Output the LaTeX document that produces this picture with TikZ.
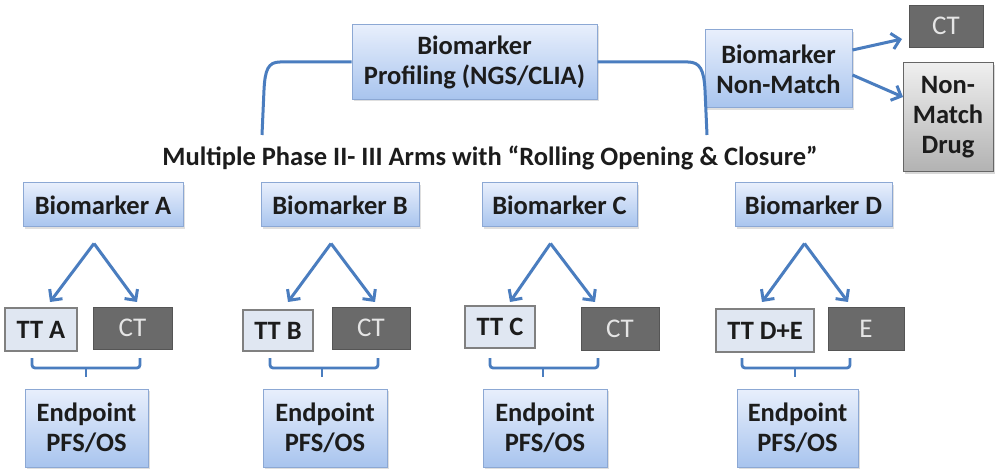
\documentclass[tikz,border=0pt]{standalone}
\usepackage{fontspec}
\setmainfont{Carlito}
\usetikzlibrary{arrows.meta,shadows,calc}
\definecolor{bluetop}{HTML}{E8EFFC}
\definecolor{bluebot}{HTML}{A8C4EE}
\definecolor{blueedge}{HTML}{8CA8D4}
\definecolor{arrowblue}{HTML}{4A7DBF}
\definecolor{darkgrey}{HTML}{6A6A6A}
\definecolor{ttfill}{HTML}{E0E7F2}
\definecolor{ttedge}{HTML}{808080}
\definecolor{greytop}{HTML}{EFEFEF}
\definecolor{greybot}{HTML}{B2B2B2}
\definecolor{txt}{HTML}{1C1C1C}
\begin{document}
\begin{tikzpicture}[x=1pt,y=-1pt,
  bluebox/.style={draw=blueedge, line width=1pt, top color=bluetop, bottom color=bluebot,
    inner sep=0pt, align=center, text=txt,
    font=\fontsize{26.5}{30}\selectfont\bfseries,
    drop shadow={shadow xshift=1.5pt, shadow yshift=-2pt, opacity=0.25}},
  ctbox/.style={draw=darkgrey!80!black, line width=0.8pt, fill=darkgrey, inner sep=0pt,
    text=white!90!black, font=\fontsize{27}{30}\selectfont},
  ttbox/.style={draw=ttedge, line width=1.2pt, fill=ttfill, inner sep=0pt, text=txt,
    font=\fontsize{26.5}{30}\selectfont\bfseries},
  greybox/.style={draw=ttedge!80!black, line width=1pt, top color=greytop, bottom color=greybot,
    inner sep=0pt, align=center, text=txt, font=\fontsize{26.5}{30}\selectfont\bfseries,
    drop shadow={shadow xshift=1.5pt, shadow yshift=-2pt, opacity=0.3}},
  link/.style={draw=arrowblue, line width=3pt},
  arr/.style={link, -{Straight Barb[length=8pt,width=16pt]}},
  brk/.style={link, rounded corners=3pt, line width=2.8pt},
]
\fill[white] (0,0) rectangle (1001,470);
\useasboundingbox (0,0) rectangle (1001,470);

% top row
\node[bluebox, minimum width=245pt, minimum height=75pt] (prof) at (474.5,62) {Biomarker\\Profiling (NGS/CLIA)};
\node[bluebox, minimum width=147pt, minimum height=78pt] (nm) at (778.5,69) {Biomarker\\Non-Match};
\node[ctbox, minimum width=74pt, minimum height=42pt] (ct0) at (946,26) {CT};
\node[greybox, minimum width=90pt, minimum height=109pt] (nmd) at (948,117.5) {Non-\\Match\\Drug};

\node[font=\fontsize{26.5}{30}\selectfont\bfseries, text=txt] (title) at (490,158)
  {Multiple Phase II- III Arms with “Rolling Opening \& Closure”};

\coordinate (lEnd) at (262,135);
\coordinate (rEnd) at (707,135);
\draw[link] (prof.west) -- (280,62) .. controls (268,62) and (265,70) .. (264,90) -- (lEnd);
\draw[link] (prof.east) -- (688,62) .. controls (700,62) and (704,70) .. (705,90) -- (rEnd);

\draw[arr] (nm.east |- 0,50) coordinate (nmA) -- (902,39);
\draw[arr] (nm.east |- 0,75) coordinate (nmB) -- (903,97);

% biomarker row
\node[bluebox, minimum width=160pt, minimum height=44pt] (bmA) at (103,205) {Biomarker A};
\node[bluebox, minimum width=158pt, minimum height=44pt] (bmB) at (340,205) {Biomarker B};
\node[bluebox, minimum width=155pt, minimum height=44pt] (bmC) at (559.5,205) {Biomarker C};
\node[bluebox, minimum width=157pt, minimum height=44pt] (bmD) at (813.5,205) {Biomarker D};

% treatment row
\node[ttbox, minimum width=72pt, minimum height=43pt] (ttA) at (41,329.5) {TT A};
\node[ctbox, minimum width=79pt, minimum height=42pt] (ctA) at (132.5,328) {CT};
\node[ttbox, minimum width=70pt, minimum height=41pt] (ttB) at (278,330.5) {TT B};
\node[ctbox, minimum width=78pt, minimum height=42pt] (ctB) at (371,328) {CT};
\node[ttbox, minimum width=70pt, minimum height=42pt] (ttC) at (500,327) {TT C};
\node[ctbox, minimum width=78pt, minimum height=43pt] (ctC) at (620,328.5) {CT};
\node[ttbox, minimum width=98pt, minimum height=43pt] (ttD) at (765,330.5) {TT D+E};
\node[ctbox, minimum width=76pt, minimum height=43pt] (eD) at (866,328.5) {E};

% endpoint row
\node[bluebox, minimum width=123pt, minimum height=78pt] (epA) at (86.5,428) {Endpoint\\PFS/OS};
\node[bluebox, minimum width=124pt, minimum height=78pt] (epB) at (325,428) {Endpoint\\PFS/OS};
\node[bluebox, minimum width=124pt, minimum height=78pt] (epC) at (545,428) {Endpoint\\PFS/OS};
\node[bluebox, minimum width=121pt, minimum height=78pt] (epD) at (797.5,428) {Endpoint\\PFS/OS};

% split arrows
\foreach \ap/\l/\r/\b in {A/50/137/bmA, B/288/375/bmB, C/510/595/bmC, D/762/848/bmD}{
  \coordinate (ap\ap) at ($(\b.south)+(-9,16)$);
  \coordinate (tl\ap) at (\l,302);
  \coordinate (tr\ap) at (\r,302);
  \draw[arr] (ap\ap) -- (tl\ap);
  \draw[arr] (ap\ap) -- (tr\ap);
}

% brackets
\foreach \l/\r/\c in {32/140/86, 270/378/322, 490/598/543, 742/850/795}{
  \draw[brk] (\l,358) -- (\l,368) -- (\r,368) -- (\r,358);
  \draw[brk] (\c,368) -- (\c,377);
}
\end{tikzpicture}
\end{document}
